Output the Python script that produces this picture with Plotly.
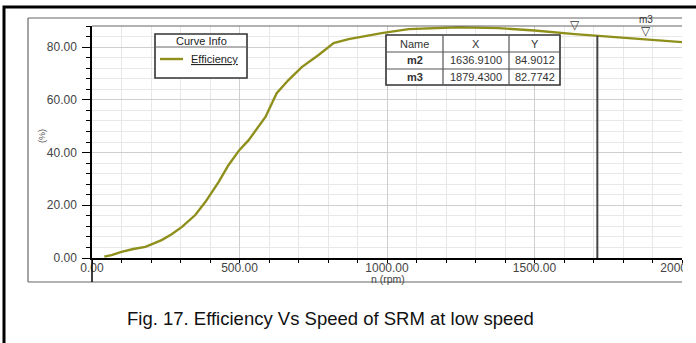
import plotly.graph_objects as go

# ---------------- data ----------------
speed_rpm = [42, 66, 100, 140, 181, 236, 270, 305, 350, 384, 429, 463, 500, 531, 588,
             626, 666, 711, 768, 819, 870, 930, 982, 1073, 1160, 1243, 1378, 1500,
             1636.91, 1713, 1879.43, 2000]
efficiency = [0.5, 1.1, 2.3, 3.4, 4.2, 6.8, 9.0, 11.8, 16.3, 21.2, 28.8, 35.3, 41.0, 44.7, 53.5,
              62.5, 67.5, 72.4, 77.0, 81.5, 83.0, 84.3, 85.3, 86.8, 87.3, 87.5, 87.2, 86.3,
              84.9012, 84.3, 82.7742, 81.9]

marker_names = ["m2", "m3"]
marker_x = [1636.91, 1879.43]
marker_y = [84.9012, 82.7742]
marker_x_txt = ["1636.9100", "1879.4300"]
marker_y_txt = ["84.9012", "82.7742"]

cursor_x = 1713
cursor_top = 84.3

x_title = "n (rpm)"
y_title = "(%)"
legend_title = "Curve Info"
series_name = "Efficiency"
caption = "Fig. 17. Efficiency Vs Speed of SRM at low speed"

CURVE_COLOR = "#8f8f1c"

# ---------------- helpers (pixel -> paper) ----------------
L, R, T, B = 92, 682, 26, 258
W, H = 696, 343


def px(x):
    return (x - L) / (R - L)


def py(y):
    return (B - y) / (B - T)


def text_ann(x, y, text, size=11, color="#222", family="Liberation Sans", **kw):
    d = dict(xref="paper", yref="paper", x=px(x), y=py(y), text=text, showarrow=False,
             xanchor="center", yanchor="middle",
             font=dict(family=family, size=size, color=color))
    d.update(kw)
    return d


fig = go.Figure()
fig.add_trace(go.Scatter(x=speed_rpm, y=efficiency, mode="lines",
                         line=dict(color=CURVE_COLOR, width=2.4),
                         name=series_name, showlegend=False))

shapes = []
ann = []

# white strip on the right (the figure is cropped there)
shapes.append(dict(type="rect", xref="paper", yref="paper",
                   x0=px(683), x1=px(720), y0=py(380), y1=py(0),
                   fillcolor="white", line=dict(width=0), layer="above"))
# outer black frame
shapes.append(dict(type="rect", xref="paper", yref="paper",
                   x0=px(4), x1=px(740), y0=py(380), y1=py(7),
                   line=dict(color="black", width=3), layer="above"))
# inner grey frame (top, left, bottom) and top plot edge
for (x0, y0, x1, y1) in [(28, 18, 682, 18), (28, 18, 28, 282), (28, 282, 682, 282), (92, 26, 682, 26)]:
    shapes.append(dict(type="line", xref="paper", yref="paper",
                       x0=px(x0), y0=py(y0), x1=px(x1), y1=py(y1),
                       line=dict(color="#666666", width=1.2), layer="above"))
# y axis extension below x axis
shapes.append(dict(type="line", xref="paper", yref="paper",
                   x0=0, y0=0, x1=0, y1=py(282),
                   line=dict(color="black", width=1.5), layer="above"))

# cursor line
shapes.append(dict(type="line", xref="x", yref="y",
                   x0=cursor_x, x1=cursor_x, y0=0, y1=cursor_top,
                   line=dict(color="#444444", width=2), layer="above"))

# legend box
lx0, lx1, ly0, ly1 = 155, 247, 34, 78
shapes.append(dict(type="rect", xref="paper", yref="paper",
                   x0=px(lx0), x1=px(lx1), y0=py(ly1), y1=py(ly0),
                   fillcolor="white", line=dict(color="#333333", width=1.6), layer="above"))
shapes.append(dict(type="line", xref="paper", yref="paper",
                   x0=px(lx0), x1=px(lx1), y0=py(47), y1=py(47),
                   line=dict(color="#666666", width=1), layer="above"))
shapes.append(dict(type="line", xref="paper", yref="paper",
                   x0=px(160), x1=px(183), y0=py(59), y1=py(59),
                   line=dict(color=CURVE_COLOR, width=2.4), layer="above"))
ann.append(text_ann(201, 41, legend_title))
ann.append(text_ann(189, 59, "<u>" + series_name + "</u>", xanchor="left"))

# marker table
cols = [386, 443, 509, 560]
rows = [35, 52, 69, 85]
shapes.append(dict(type="rect", xref="paper", yref="paper",
                   x0=px(cols[0]), x1=px(cols[-1]), y0=py(rows[-1]), y1=py(rows[0]),
                   fillcolor="white", line=dict(color="#333333", width=1.6), layer="above"))
for c in cols[1:-1]:
    shapes.append(dict(type="line", xref="paper", yref="paper",
                       x0=px(c), x1=px(c), y0=py(rows[0]), y1=py(rows[-1]),
                       line=dict(color="#555555", width=1.2), layer="above"))
for r in rows[1:-1]:
    shapes.append(dict(type="line", xref="paper", yref="paper",
                       x0=px(cols[0]), x1=px(cols[-1]), y0=py(r), y1=py(r),
                       line=dict(color="#555555", width=1.2), layer="above"))
header = ["Name", "X", "Y"]
table_rows = [header] + [["<b>" + n + "</b>", xt, yt]
                         for n, xt, yt in zip(marker_names, marker_x_txt, marker_y_txt)]
for ri, row in enumerate(table_rows):
    yc = (rows[ri] + rows[ri + 1]) / 2
    for ci, txt in enumerate(row):
        xc = (cols[ci] + cols[ci + 1]) / 2
        ann.append(text_ann(xc, yc, txt, size=11, color="#333"))

# marker triangles
for n, mx, my in zip(marker_names, marker_x, marker_y):
    ann.append(dict(xref="x", yref="y", x=mx, y=my, text="▽", showarrow=False,
                    xanchor="center", yanchor="bottom", yshift=0,
                    font=dict(family="DejaVu Sans", size=12, color="#333")))
ann.append(dict(xref="x", yref="y", x=marker_x[1], y=marker_y[1], text=marker_names[1],
                showarrow=False, xanchor="center", yanchor="bottom", yshift=13,
                font=dict(family="Liberation Sans", size=10, color="#333")))

# axis titles
ann.append(text_ann(388, 279, x_title, size=10.5, color="#444"))
ann.append(text_ann(42, 136, y_title, size=9, color="#555", textangle=-90))

# caption
ann.append(text_ann(330, 318, caption, size=18.5, color="#111"))

tickfont = dict(family="Liberation Sans", size=12, color="#444")

fig.update_layout(
    width=W, height=H,
    margin=dict(l=L, r=W - R, t=T, b=H - B, pad=0),
    paper_bgcolor="white", plot_bgcolor="white",
    showlegend=False,
    shapes=shapes, annotations=ann,
    xaxis=dict(range=[0, 2000], dtick=500, tick0=0, tickformat=".2f",
               automargin=False,
               showline=True, linecolor="black", linewidth=1.5,
               ticks="outside", ticklen=3, tickwidth=1.2, tickcolor="black",
               ticklabeloverflow="allow", ticklabelstandoff=-5,
               showgrid=True, gridcolor="#cfcfcf", gridwidth=1,
               minor=dict(dtick=100, ticks="outside", ticklen=3, tickcolor="black",
                          showgrid=True, gridcolor="#e8e8e8"),
               zeroline=False, tickfont=tickfont),
    yaxis=dict(range=[0, 88], dtick=20, tick0=0, tickformat=".2f",
               automargin=False,
               showline=True, linecolor="black", linewidth=1.5,
               ticks="outside", ticklen=8, tickwidth=1.2, tickcolor="black",
               ticklabelstandoff=3,
               showgrid=True, gridcolor="#cfcfcf", gridwidth=1,
               minor=dict(dtick=4, ticks="outside", ticklen=4, tickcolor="black",
                          showgrid=True, gridcolor="#e8e8e8"),
               zeroline=False, tickfont=tickfont),
)

fig.write_html("out.html", config={"displayModeBar": False},
               post_script="document.body.style.margin='0';")
